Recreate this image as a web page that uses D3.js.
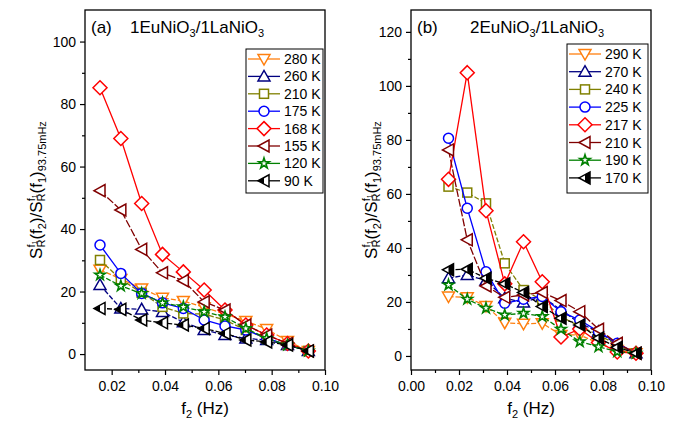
<!DOCTYPE html>
<html lang="en">
<head>
<meta charset="utf-8">
<title>Noise ratio vs f2</title>
<script src="https://d3js.org/d3.v7.min.js"></script>
<style>
  body { margin: 0; background: white; }
  text { font-family: "Liberation Sans", Arial, sans-serif; fill: #000; }
</style>
</head>
<body>
<svg></svg>
<script>
// f2 values (Hz), same for every curve
const freq = [0.015625, 0.0234375, 0.03125, 0.0390625, 0.046875, 0.0546875,
              0.0625, 0.0703125, 0.078125, 0.0859375, 0.09375];

// panel (a) 1EuNiO3/1LaNiO3
const labelsA = ["280 K", "260 K", "210 K", "175 K", "168 K", "155 K", "120 K", "90 K"];
const a280 = [27.0, 24.0, 21.0, 18.0, 17.0, 15.0, 12.8, 10.6, 8.0, 4.2, 1.0];
const a260 = [22.1, 14.6, 14.3, 13.5, 10.2, 7.7, 6.1, 5.0, 4.5, 2.9, 1.0];
const a210 = [30.1, 23.9, 19.6, 15.1, 13.0, 12.8, 10.9, 7.7, 5.0, 2.9, 1.0];
const a175 = [34.9, 25.8, 19.4, 16.4, 14.6, 10.9, 9.0, 7.7, 5.1, 2.9, 1.0];
const a168 = [85.2, 69.0, 48.2, 31.9, 26.3, 20.5, 14.1, 9.3, 6.1, 3.4, 1.0];
const a155 = [52.3, 46.1, 33.5, 26.0, 23.5, 16.7, 14.1, 9.3, 6.1, 3.4, 1.0];
const a120 = [25.3, 21.8, 19.4, 16.4, 15.1, 13.5, 11.9, 8.2, 5.0, 2.9, 1.0];
const a90  = [14.6, 14.3, 10.9, 10.0, 9.3, 8.2, 6.6, 4.5, 3.9, 2.9, 1.0];

// panel (b) 2EuNiO3/1LaNiO3
const labelsB = ["290 K", "270 K", "240 K", "225 K", "217 K", "210 K", "190 K", "170 K"];
const b290 = [22.0, 21.7, 18.5, 12.3, 11.9, 12.1, 7.8, 7.8, 4.7, 2.2, 1.0];
const b270 = [28.8, 30.0, 27.9, 21.4, 19.8, 22.0, 17.0, 12.1, 9.0, 4.1, 1.0];
const b240 = [62.7, 60.5, 56.5, 34.3, 24.4, 20.7, 14.6, 10.9, 7.8, 4.1, 1.0];
const b225 = [80.6, 54.7, 31.2, 19.5, 21.0, 22.0, 16.4, 13.3, 9.0, 4.7, 1.0];
const b217 = [65.4, 104.9, 53.8, 26.7, 42.3, 27.5, 7.0, 10.0, 5.0, 1.5, 1.0];
const b210 = [76.3, 43.0, 25.9, 21.7, 22.6, 23.5, 20.5, 16.4, 9.9, 4.7, 1.0];
const b190 = [26.3, 21.0, 17.7, 15.2, 15.8, 14.6, 9.9, 5.3, 3.4, 1.6, 1.0];
const b170 = [31.9, 32.1, 28.8, 26.7, 23.5, 18.3, 14.0, 11.5, 6.6, 3.2, 1.0];

// tick values
const xMajorA = [0.02, 0.04, 0.06, 0.08, 0.10];
const xMinorA = [0.03, 0.05, 0.07, 0.09];
const xMajorB = [0.00, 0.02, 0.04, 0.06, 0.08, 0.10];
const xMinorB = [0.01, 0.03, 0.05, 0.07, 0.09];
const yMajorA = [0, 20, 40, 60, 80, 100];
const yMinorA = [10, 30, 50, 70, 90];
const yMajorB = [0, 20, 40, 60, 80, 100, 120];
const yMinorB = [10, 30, 50, 70, 90, 110];

// look of each series, in legend order
const styles = [
  {color: "#ff7f0e", marker: "down",    dash: "5,2"},
  {color: "#000080", marker: "up",      dash: "5,2"},
  {color: "#808000", marker: "square",  dash: "5,2"},
  {color: "#0000ff", marker: "circle",  dash: null},
  {color: "#ff0000", marker: "diamond", dash: null},
  {color: "#800000", marker: "left",    dash: "8,2"},
  {color: "#008000", marker: "star",    dash: "5,2"},
  {color: "#000000", marker: "half",    dash: "5,2"}
];

const W = 693, H = 428;
const svg = d3.select("svg").attr("width", W).attr("height", H);

function drawMarker(g, type, color, halfSide) {
  g.attr("stroke", color).attr("stroke-width", 1.5).attr("fill", "white");
  if (type === "circle") {
    g.append("circle").attr("r", 5);
  } else if (type === "square") {
    g.append("rect").attr("x", -4.5).attr("y", -4.5).attr("width", 9).attr("height", 9);
  } else if (type === "diamond") {
    g.append("path").attr("d", "M0,-7L7,0L0,7L-7,0Z");
  } else if (type === "down") {
    g.append("path").attr("d", "M-6,-4.5L6,-4.5L0,6Z");
  } else if (type === "up") {
    g.append("path").attr("d", "M-6,4.5L6,4.5L0,-6Z");
  } else if (type === "left") {
    g.append("path").attr("d", "M5,-6L5,6L-6,0Z");
  } else if (type === "star") {
    g.append("path").attr("d", d3.symbol(d3.symbolStar, 34)()).attr("stroke-width", 1.6);
  } else if (type === "half") {
    g.append("path").attr("d", "M5,-6L5,6L-6,0Z");
    const fillPart = halfSide === "left" ? "M-6,0L0,-3.3L0,3.3Z" : "M0,-3.3L5,-6L5,6L0,3.3Z";
    g.append("path").attr("d", fillPart).attr("fill", color).attr("stroke", "none");
  }
}

function panel(cfg) {
  const x = d3.scaleLinear().domain(cfg.xDomain).range([cfg.left, cfg.right]);
  const y = d3.scaleLinear().domain(cfg.yDomain).range([cfg.bottom, cfg.top]);
  const g = svg.append("g");

  // frame
  g.append("rect")
    .attr("x", cfg.left).attr("y", cfg.top)
    .attr("width", cfg.right - cfg.left).attr("height", cfg.bottom - cfg.top)
    .attr("fill", "none").attr("stroke", "#000").attr("stroke-width", 1.3);

  // axes
  const styleAxis = sel => {
    sel.select(".domain").remove();
    sel.selectAll(".tick line").attr("stroke", "#000").attr("stroke-width", 1.2);
    sel.selectAll(".tick text").style("font-size", "14px").attr("fill", "#000");
  };
  g.append("g").attr("transform", `translate(0,${cfg.bottom})`)
    .call(d3.axisBottom(x).tickValues(cfg.xMajor).tickSize(5).tickPadding(6).tickFormat(d3.format(".2f")))
    .call(styleAxis);
  g.append("g").attr("transform", `translate(0,${cfg.bottom})`)
    .call(d3.axisBottom(x).tickValues(cfg.xMinor).tickSize(3).tickFormat(""))
    .call(styleAxis);
  g.append("g").attr("transform", `translate(${cfg.left},0)`)
    .call(d3.axisLeft(y).tickValues(cfg.yMajor).tickSize(5).tickPadding(4).tickFormat(d3.format("d")))
    .call(styleAxis);
  g.append("g").attr("transform", `translate(${cfg.left},0)`)
    .call(d3.axisLeft(y).tickValues(cfg.yMinor).tickSize(3).tickFormat(""))
    .call(styleAxis);

  // curves
  const line = d3.line().x((d, i) => x(freq[i])).y(d => y(d));
  cfg.series.forEach((s, k) => {
    const st = styles[k];
    g.append("path").datum(s)
      .attr("d", line)
      .attr("fill", "none")
      .attr("stroke", st.color)
      .attr("stroke-width", 1.3)
      .attr("stroke-dasharray", st.dash);
    g.append("g").selectAll("g")
      .data(s)
      .enter()
      .append("g")
      .attr("transform", (d, i) => `translate(${x(freq[i])},${y(d)})`)
      .each(function () { drawMarker(d3.select(this), st.marker, st.color, cfg.half); });
  });

  // legend
  const lg = g.append("g");
  lg.append("rect")
    .attr("x", cfg.legX).attr("y", cfg.legY)
    .attr("width", cfg.legW).attr("height", cfg.legH)
    .attr("fill", "white").attr("stroke", "#000").attr("stroke-width", 1);
  cfg.labels.forEach((lab, k) => {
    const st = styles[k];
    const cy = cfg.legY + 10 + k * cfg.legStep;
    const cx = cfg.legX + 18;
    lg.append("line")
      .attr("x1", cx - 16).attr("x2", cx + 16).attr("y1", cy).attr("y2", cy)
      .attr("stroke", st.color).attr("stroke-width", 1.3);
    drawMarker(lg.append("g").attr("transform", `translate(${cx},${cy})`), st.marker, st.color, cfg.half);
    lg.append("text")
      .attr("x", cx + 20).attr("y", cy + 5)
      .style("font-size", "14px")
      .text(lab);
  });

  // panel letter and sample name
  g.append("text").attr("x", cfg.left + 6).attr("y", cfg.top + 23)
    .style("font-size", "17px").text(cfg.letter);
  const t = g.append("text").attr("x", cfg.nameX).attr("y", cfg.top + 23).style("font-size", "17px");
  t.append("tspan").text(cfg.name[0]);
  t.append("tspan").attr("dy", 4).style("font-size", "11px").text("3");
  t.append("tspan").attr("dy", -4).text(cfg.name[1]);
  t.append("tspan").attr("dy", 4).style("font-size", "11px").text("3");

  // x label
  const xl = g.append("text")
    .attr("x", (cfg.left + cfg.right) / 2).attr("y", 414)
    .attr("text-anchor", "middle").style("font-size", "17px");
  xl.append("tspan").text("f");
  xl.append("tspan").attr("dy", 4).style("font-size", "11px").text("2");
  xl.append("tspan").attr("dy", -4).text(" (Hz)");

  // y label
  const yl = g.append("text")
    .attr("transform", `translate(${cfg.yLabelX},${(cfg.top + cfg.bottom) / 2}) rotate(-90)`)
    .attr("text-anchor", "middle").style("font-size", "17px");
  yl.append("tspan").attr("dy", 0).text("S");
  yl.append("tspan").attr("dy", -7).style("font-size", "11px").text("f");
  yl.append("tspan").attr("dy", 2).style("font-size", "7px").text("1");
  yl.append("tspan").attr("dx", -7).attr("dy", 8).style("font-size", "11px").text("R");
  yl.append("tspan").attr("dy", -3).text("(f");
  yl.append("tspan").attr("dy", 4).style("font-size", "11px").text("2");
  yl.append("tspan").attr("dy", -4).text(")/S");
  yl.append("tspan").attr("dy", -7).style("font-size", "11px").text("f");
  yl.append("tspan").attr("dy", 2).style("font-size", "7px").text("1");
  yl.append("tspan").attr("dx", -7).attr("dy", 8).style("font-size", "11px").text("R");
  yl.append("tspan").attr("dy", -3).text("(f");
  yl.append("tspan").attr("dy", 4).style("font-size", "11px").text("1");
  yl.append("tspan").attr("dy", -4).text(")");
  yl.append("tspan").attr("dy", 4).style("font-size", "11px").text("93.75mHz");
}

panel({
  left: 85, right: 325, top: 10, bottom: 370,
  xDomain: [0.01, 0.10], yDomain: [-5.1, 110.1],
  xMajor: xMajorA, xMinor: xMinorA, yMajor: yMajorA, yMinor: yMinorA,
  series: [a280, a260, a210, a175, a168, a155, a120, a90],
  labels: labelsA, half: "left",
  legX: 246, legY: 49, legW: 77, legH: 144, legStep: 17.4,
  letter: "(a)", nameX: 130, name: ["1EuNiO", "/1LaNiO"], yLabelX: 42
});

panel({
  left: 411, right: 651, top: 10, bottom: 370,
  xDomain: [0.00, 0.10], yDomain: [-5.2, 128.1],
  xMajor: xMajorB, xMinor: xMinorB, yMajor: yMajorB, yMinor: yMinorB,
  series: [b290, b270, b240, b225, b217, b210, b190, b170],
  labels: labelsB, half: "right",
  legX: 567, legY: 44, legW: 81, legH: 149, legStep: 17.7,
  letter: "(b)", nameX: 470, name: ["2EuNiO", "/1LaNiO"], yLabelX: 377
});
</script>
</body>
</html>
